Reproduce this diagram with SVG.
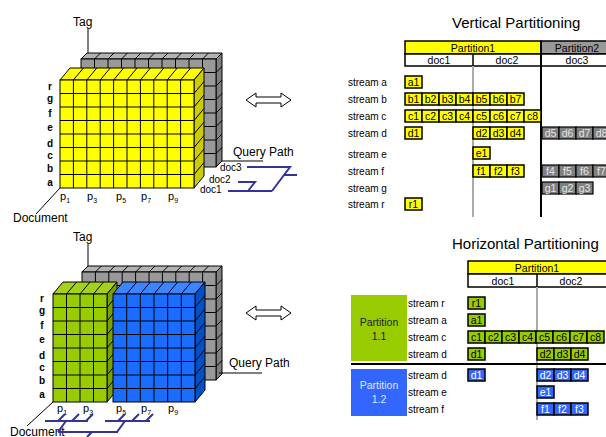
<svg xmlns="http://www.w3.org/2000/svg" width="606" height="437" viewBox="0 0 606 437">
<style>
text{font-family:"Liberation Sans",Arial,sans-serif;fill:#000}
.lab{font-size:12px}
.row{font-size:10px;font-weight:bold;text-anchor:middle}
.pp{font-size:11px}
.sub{font-size:7px}
.doc{font-size:10px}
.st{font-size:10px}
.hd{font-size:10.5px;text-anchor:middle}
.ct{font-size:10.5px;text-anchor:middle}
.ctw{font-size:10.5px;text-anchor:middle;fill:#fff}
.ctg{font-size:10.5px;text-anchor:middle;fill:#e6e6e6}
.title{font-size:15px}
.grid{stroke:#000;stroke-width:1;fill:none}
.edge{stroke:#000;stroke-width:1}
.axis{stroke:#000;stroke-width:1;fill:none}
.qp{stroke:#333399;stroke-width:2;fill:none}
.cy{fill:#ffff00;stroke:#000;stroke-width:1.5}
.cg{fill:#808080;stroke:#000;stroke-width:1.2}
.cgr{fill:#99cc00;stroke:#000;stroke-width:1.5}
.cb{fill:#3366ff;stroke:#000;stroke-width:1.5}
.arr{fill:#fff;stroke:#000;stroke-width:1}
</style>
<rect width="606" height="437" fill="#fff"/>

<!-- ===== Top cube (vertical partitioning) ===== -->
<g id="cube-top">
  <polygon points="81,59 216,59 222,53 87,53" fill="#b3b3b3" class="edge"/>
  <polygon points="216,59 222,53 222,161 216,167" fill="#7f7f7f" class="edge"/>
  <rect x="81" y="59" width="135" height="108" fill="#999" class="edge"/>
  <path class="grid" d="M94.5,59V167M108,59V167M121.5,59V167M135,59V167M148.5,59V167M162,59V167M175.5,59V167M189,59V167M202.5,59V167
  M81,72.5H216M81,86H216M81,99.5H216M81,113H216M81,126.5H216M81,140H216M81,153.5H216
  M94.5,59L100.5,53M108,59L114,53M121.5,59L127.5,53M135,59L141,53M148.5,59L154.5,53M162,59L168,53M175.5,59L181.5,53M189,59L195,53M202.5,59L208.5,53
  M216,72.5L222,66.5M216,86L222,80M216,99.5L222,93.5M216,113L222,107M216,126.5L222,120.5M216,140L222,134M216,153.5L222,147.5"/>
  <polygon points="60,80 194,80 204,68 70,68" fill="#ffff00" class="edge"/>
  <polygon points="194,80 204,68 204,176 194,188" fill="#cccc00" class="edge"/>
  <rect x="60" y="80" width="134" height="108" fill="#ffff00" class="edge"/>
  <path class="grid" d="M73.4,80V188M86.8,80V188M100.2,80V188M113.6,80V188M127,80V188M140.4,80V188M153.8,80V188M167.2,80V188M180.6,80V188
  M60,93.5H194M60,107H194M60,120.5H194M60,134H194M60,147.5H194M60,161H194M60,174.5H194
  M73.4,80L83.4,68M86.8,80L96.8,68M100.2,80L110.2,68M113.6,80L123.6,68M127,80L137,68M140.4,80L150.4,68M153.8,80L163.8,68M167.2,80L177.2,68M180.6,80L190.6,68
  M194,93.5L204,81.5M194,107L204,95M194,120.5L204,108.5M194,134L204,122M194,147.5L204,135.5M194,161L204,149M194,174.5L204,162.5"/>
  <path class="axis" d="M88,29V53M60,188L36,214M222,161H263"/>
  <text class="lab" x="73" y="26">Tag</text>
  <text class="lab" x="13" y="222">Document</text>
  <text class="lab" x="233" y="156">Query Path</text>
  <text class="row" x="50" y="90">r</text>
  <text class="row" x="50" y="101.5">g</text>
  <text class="row" x="50" y="116.5">f</text>
  <text class="row" x="50" y="131">e</text>
  <text class="row" x="50" y="146.5">d</text>
  <text class="row" x="50" y="159">c</text>
  <text class="row" x="50" y="171.5">b</text>
  <text class="row" x="50" y="186">a</text>
  <text class="pp" x="60" y="200">p<tspan class="sub" dy="3">1</tspan></text>
  <text class="pp" x="87" y="200">p<tspan class="sub" dy="3">3</tspan></text>
  <text class="pp" x="116" y="200">p<tspan class="sub" dy="3">5</tspan></text>
  <text class="pp" x="141" y="200">p<tspan class="sub" dy="3">7</tspan></text>
  <text class="pp" x="168" y="200">p<tspan class="sub" dy="3">9</tspan></text>
  <text class="doc" x="220" y="171">doc3</text>
  <text class="doc" x="209" y="183">doc2</text>
  <text class="doc" x="200" y="193">doc1</text>
</g>

<!-- ===== Bottom cube (horizontal partitioning) ===== -->
<g id="cube-bottom">
  <polygon points="82,272 216,272 222,266 88,266" fill="#b3b3b3" class="edge"/>
  <polygon points="216,272 222,266 222,374 216,380" fill="#7f7f7f" class="edge"/>
  <rect x="82" y="272" width="134" height="108" fill="#999" class="edge"/>
  <path class="grid" d="M95.4,272V380M108.8,272V380M122.2,272V380M135.6,272V380M149,272V380M162.4,272V380M175.8,272V380M189.2,272V380M202.6,272V380
  M82,285.5H216M82,299H216M82,312.5H216M82,326H216M82,339.5H216M82,353H216M82,366.5H216
  M95.4,272L101.4,266M108.8,272L114.8,266M122.2,272L128.2,266M135.6,272L141.6,266M149,272L155,266M162.4,272L168.4,266M175.8,272L181.8,266M189.2,272L195.2,266M202.6,272L208.6,266
  M216,285.5L222,279.5M216,299L222,293M216,312.5L222,306.5M216,326L222,320M216,339.5L222,333.5M216,353L222,347M216,366.5L222,360.5"/>
  <polygon points="53,294 107,294 117,282 63,282" fill="#a6d11a" class="edge"/>
  <polygon points="107,294 117,282 117,390 107,402" fill="#7a9f00" class="edge"/>
  <rect x="53" y="294" width="54" height="108" fill="#99cc00" class="edge"/>
  <path class="grid" d="M66.5,294V402M80,294V402M93.5,294V402
  M53,307.5H107M53,321H107M53,334.5H107M53,348H107M53,361.5H107M53,375H107M53,388.5H107
  M66.5,294L76.5,282M80,294L90,282M93.5,294L103.5,282
  M107,307.5L117,295.5M107,321L117,309M107,334.5L117,322.5M107,348L117,336M107,361.5L117,349.5M107,375L117,363M107,388.5L117,376.5"/>
  <polygon points="113,294 195,294 205,282 123,282" fill="#3d85ff" class="edge"/>
  <polygon points="195,294 205,282 205,390 195,402" fill="#0050c8" class="edge"/>
  <rect x="113" y="294" width="82" height="108" fill="#1a6dff" class="edge"/>
  <path class="grid" d="M126.7,294V402M140.3,294V402M154,294V402M167.7,294V402M181.3,294V402
  M113,307.5H195M113,321H195M113,334.5H195M113,348H195M113,361.5H195M113,375H195M113,388.5H195
  M126.7,294L136.7,282M140.3,294L150.3,282M154,294L164,282M167.7,294L177.7,282M181.3,294L191.3,282
  M195,307.5L205,295.5M195,321L205,309M195,334.5L205,322.5M195,348L205,336M195,361.5L205,349.5M195,375L205,363M195,388.5L205,376.5"/>
  <path class="axis" d="M88,244V266M53,402L27,426M219,373H262"/>
  <text class="lab" x="73" y="241">Tag</text>
  <text class="lab" x="10" y="436">Document</text>
  <text class="lab" x="229" y="367">Query Path</text>
  <text class="row" x="42" y="302">r</text>
  <text class="row" x="42" y="313.5">g</text>
  <text class="row" x="42" y="328.5">f</text>
  <text class="row" x="42" y="343">e</text>
  <text class="row" x="42" y="358.5">d</text>
  <text class="row" x="42" y="371">c</text>
  <text class="row" x="42" y="383.5">b</text>
  <text class="row" x="42" y="398">a</text>
  <text class="pp" x="57" y="412">p<tspan class="sub" dy="3">1</tspan></text>
  <text class="pp" x="83" y="412">p<tspan class="sub" dy="3">3</tspan></text>
  <text class="pp" x="116" y="412">p<tspan class="sub" dy="3">5</tspan></text>
  <text class="pp" x="141" y="412">p<tspan class="sub" dy="3">7</tspan></text>
  <text class="pp" x="168" y="412">p<tspan class="sub" dy="3">9</tspan></text>
</g>

<!-- ===== Connectors ===== -->
<g id="connectors">
  <path class="qp" d="M247,167H290L272,191M228,191H272M238,182H255L248,191M284,175H297"/>
  <path class="qp" d="M45,421H88M58,421L65,414M72,421L79,414M86,421L93,414
  M105,421H150M118,421L125,414M132,421L139,414M146,421L153,414
  M66,421L58,432M125,421L117,432M58,432H118M92,432L87,437"/>
  <path class="arr" d="M246,100L256,93V97H281V93L291,100L281,107V103H256V107Z"/>
  <path class="arr" d="M246,313L256,306V310H281V306L291,313L281,320V316H256V320Z"/>
</g>

<!-- ===== Vertical partitioning table ===== -->
<g id="vertical-table">
  <text class="title" x="452" y="28">Vertical Partitioning</text>
  <rect x="405" y="41" width="136" height="13" fill="#ffff00" stroke="#000" stroke-width="1.5"/>
  <rect x="541" y="41" width="70" height="13" fill="#999" stroke="#000" stroke-width="1.5"/>
  <rect x="405" y="54" width="206" height="12" fill="#fff" stroke="#000" stroke-width="1.5"/>
  <path d="M473,54V66" stroke="#000" stroke-width="1.5"/>
  <path d="M473,66V217" stroke="#aaa" stroke-width="2"/>
  <path d="M541,41V217" stroke="#000" stroke-width="2"/>
  <text class="hd" x="473" y="51.5">Partition1</text>
  <text class="hd" x="577" y="51.5">Partition2</text>
  <text class="hd" x="439" y="64">doc1</text>
  <text class="hd" x="507" y="64">doc2</text>
  <text class="hd" x="577" y="64">doc3</text>

  <text class="st" x="348" y="86">stream a</text>
  <text class="st" x="348" y="103">stream b</text>
  <text class="st" x="348" y="120">stream c</text>
  <text class="st" x="348" y="137">stream d</text>
  <text class="st" x="348" y="158">stream e</text>
  <text class="st" x="348" y="175">stream f</text>
  <text class="st" x="348" y="192">stream g</text>
  <text class="st" x="348" y="208">stream r</text>

  <rect class="cy" x="405" y="76" width="17" height="12"/><text class="ct" x="413.5" y="86">a1</text>

  <rect class="cy" x="405" y="93" width="17" height="12"/><text class="ct" x="413.5" y="103">b1</text>
  <rect class="cy" x="422" y="93" width="17" height="12"/><text class="ct" x="430.5" y="103">b2</text>
  <rect class="cy" x="439" y="93" width="17" height="12"/><text class="ct" x="447.5" y="103">b3</text>
  <rect class="cy" x="456" y="93" width="17" height="12"/><text class="ct" x="464.5" y="103">b4</text>
  <rect class="cy" x="473" y="93" width="17" height="12"/><text class="ct" x="481.5" y="103">b5</text>
  <rect class="cy" x="490" y="93" width="17" height="12"/><text class="ct" x="498.5" y="103">b6</text>
  <rect class="cy" x="507" y="93" width="17" height="12"/><text class="ct" x="515.5" y="103">b7</text>

  <rect class="cy" x="405" y="110" width="17" height="12"/><text class="ct" x="413.5" y="120">c1</text>
  <rect class="cy" x="422" y="110" width="17" height="12"/><text class="ct" x="430.5" y="120">c2</text>
  <rect class="cy" x="439" y="110" width="17" height="12"/><text class="ct" x="447.5" y="120">c3</text>
  <rect class="cy" x="456" y="110" width="17" height="12"/><text class="ct" x="464.5" y="120">c4</text>
  <rect class="cy" x="473" y="110" width="17" height="12"/><text class="ct" x="481.5" y="120">c5</text>
  <rect class="cy" x="490" y="110" width="17" height="12"/><text class="ct" x="498.5" y="120">c6</text>
  <rect class="cy" x="507" y="110" width="17" height="12"/><text class="ct" x="515.5" y="120">c7</text>
  <rect class="cy" x="524" y="110" width="17" height="12"/><text class="ct" x="532.5" y="120">c8</text>

  <rect class="cy" x="405" y="127" width="17" height="12"/><text class="ct" x="413.5" y="137">d1</text>
  <rect class="cy" x="473" y="127" width="17" height="12"/><text class="ct" x="481.5" y="137">d2</text>
  <rect class="cy" x="490" y="127" width="17" height="12"/><text class="ct" x="498.5" y="137">d3</text>
  <rect class="cy" x="507" y="127" width="17" height="12"/><text class="ct" x="515.5" y="137">d4</text>
  <rect class="cg" x="542" y="127" width="17" height="12"/><text class="ctg" x="550.5" y="137">d5</text>
  <rect class="cg" x="559" y="127" width="17" height="12"/><text class="ctg" x="567.5" y="137">d6</text>
  <rect class="cg" x="576" y="127" width="17" height="12"/><text class="ctg" x="584.5" y="137">d7</text>
  <rect class="cg" x="593" y="127" width="17" height="12"/><text class="ctg" x="601.5" y="137">d8</text>

  <rect class="cy" x="473" y="147" width="17" height="12"/><text class="ct" x="481.5" y="157">e1</text>

  <rect class="cy" x="473" y="165" width="17" height="12"/><text class="ct" x="481.5" y="175">f1</text>
  <rect class="cy" x="490" y="165" width="17" height="12"/><text class="ct" x="498.5" y="175">f2</text>
  <rect class="cy" x="507" y="165" width="17" height="12"/><text class="ct" x="515.5" y="175">f3</text>
  <rect class="cg" x="542" y="165" width="17" height="12"/><text class="ctg" x="550.5" y="175">f4</text>
  <rect class="cg" x="559" y="165" width="17" height="12"/><text class="ctg" x="567.5" y="175">f5</text>
  <rect class="cg" x="576" y="165" width="17" height="12"/><text class="ctg" x="584.5" y="175">f6</text>
  <rect class="cg" x="593" y="165" width="17" height="12"/><text class="ctg" x="601.5" y="175">f7</text>

  <rect class="cg" x="542" y="182" width="17" height="12"/><text class="ctg" x="550.5" y="192">g1</text>
  <rect class="cg" x="559" y="182" width="17" height="12"/><text class="ctg" x="567.5" y="192">g2</text>
  <rect class="cg" x="576" y="182" width="17" height="12"/><text class="ctg" x="584.5" y="192">g3</text>

  <rect class="cy" x="405" y="198" width="17" height="12"/><text class="ct" x="413.5" y="208">r1</text>
</g>

<!-- ===== Horizontal partitioning table ===== -->
<g id="horizontal-table">
  <text class="title" x="452" y="249">Horizontal Partitioning</text>
  <rect x="468" y="261" width="143" height="13" fill="#ffff00" stroke="#000" stroke-width="1.5"/>
  <rect x="468" y="274" width="143" height="13" fill="#fff" stroke="#000" stroke-width="1.5"/>
  <path d="M537,274V287" stroke="#000" stroke-width="1.5"/>
  <path d="M537,287V420" stroke="#aaa" stroke-width="2"/>
  <text class="hd" x="537" y="271.5">Partition1</text>
  <text class="hd" x="503" y="284.5">doc1</text>
  <text class="hd" x="571" y="284.5">doc2</text>

  <rect x="351" y="295" width="56" height="66" fill="#99cc00"/>
  <text class="hd" x="379" y="326" style="fill:#222">Partition</text>
  <text class="hd" x="379" y="340" style="fill:#222">1.1</text>
  <path d="M351,364H606" stroke="#000" stroke-width="2"/>
  <rect x="351" y="369" width="56" height="47" fill="#3366ff"/>
  <text class="hd" x="379" y="389" style="fill:#dde6ff">Partition</text>
  <text class="hd" x="379" y="403" style="fill:#dde6ff">1.2</text>

  <text class="st" x="408" y="307">stream r</text>
  <text class="st" x="408" y="324">stream a</text>
  <text class="st" x="408" y="341">stream c</text>
  <text class="st" x="408" y="358">stream d</text>
  <text class="st" x="408" y="379">stream d</text>
  <text class="st" x="408" y="396">stream e</text>
  <text class="st" x="408" y="413">stream f</text>

  <rect class="cgr" x="468" y="297" width="17" height="12"/><text class="ct" x="476.5" y="307">r1</text>
  <rect class="cgr" x="468" y="314" width="17" height="12"/><text class="ct" x="476.5" y="324">a1</text>

  <rect class="cgr" x="468" y="331" width="17" height="12"/><text class="ct" x="476.5" y="341">c1</text>
  <rect class="cgr" x="485" y="331" width="17" height="12"/><text class="ct" x="493.5" y="341">c2</text>
  <rect class="cgr" x="502" y="331" width="17" height="12"/><text class="ct" x="510.5" y="341">c3</text>
  <rect class="cgr" x="519" y="331" width="17" height="12"/><text class="ct" x="527.5" y="341">c4</text>
  <rect class="cgr" x="536" y="331" width="17" height="12"/><text class="ct" x="544.5" y="341">c5</text>
  <rect class="cgr" x="553" y="331" width="17" height="12"/><text class="ct" x="561.5" y="341">c6</text>
  <rect class="cgr" x="570" y="331" width="17" height="12"/><text class="ct" x="578.5" y="341">c7</text>
  <rect class="cgr" x="587" y="331" width="17" height="12"/><text class="ct" x="595.5" y="341">c8</text>

  <rect class="cgr" x="468" y="348" width="17" height="12"/><text class="ct" x="476.5" y="358">d1</text>
  <rect class="cgr" x="537" y="348" width="17" height="12"/><text class="ct" x="545.5" y="358">d2</text>
  <rect class="cgr" x="554" y="348" width="17" height="12"/><text class="ct" x="562.5" y="358">d3</text>
  <rect class="cgr" x="571" y="348" width="17" height="12"/><text class="ct" x="579.5" y="358">d4</text>

  <rect class="cb" x="468" y="369" width="17" height="12"/><text class="ctw" x="476.5" y="379">d1</text>
  <rect class="cb" x="537" y="369" width="17" height="12"/><text class="ctw" x="545.5" y="379">d2</text>
  <rect class="cb" x="554" y="369" width="17" height="12"/><text class="ctw" x="562.5" y="379">d3</text>
  <rect class="cb" x="571" y="369" width="17" height="12"/><text class="ctw" x="579.5" y="379">d4</text>

  <rect class="cb" x="537" y="386" width="17" height="12"/><text class="ctw" x="545.5" y="396">e1</text>

  <rect class="cb" x="537" y="403" width="17" height="12"/><text class="ctw" x="545.5" y="413">f1</text>
  <rect class="cb" x="554" y="403" width="17" height="12"/><text class="ctw" x="562.5" y="413">f2</text>
  <rect class="cb" x="571" y="403" width="17" height="12"/><text class="ctw" x="579.5" y="413">f3</text>
</g>
</svg>
